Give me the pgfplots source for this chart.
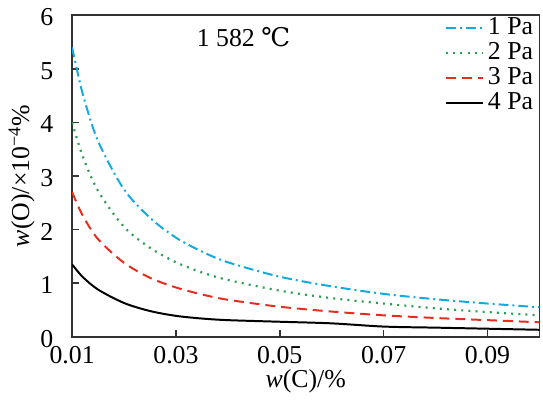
\documentclass[border=0pt]{standalone}
\usepackage{fontspec}
\setmainfont{Liberation Serif}
\newfontfamily\dejavu{DejaVu Serif}
\usepackage{pgfplots}
\pgfplotsset{compat=1.18}
\definecolor{cblue}{RGB}{20,170,225}
\definecolor{cgreen}{RGB}{40,160,80}
\definecolor{cred}{RGB}{230,45,30}
\begin{document}
\fontsize{13pt}{15pt}\selectfont
\begin{tikzpicture}
\begin{axis}[
  scale only axis,
  width=235.5pt, height=162pt,
  xmin=0.01, xmax=0.1, ymin=0, ymax=6,
  xtick={0.01,0.03,0.05,0.07,0.09},
  ytick={0,1,2,3,4,5,6},
  tick pos=left,
  tick align=inside,
  major tick length=3.5pt,
  /pgf/number format/assume math mode=true,
  xticklabel style={/pgf/number format/fixed, /pgf/number format/fixed zerofill, /pgf/number format/precision=2, yshift=-0.5pt},
  yticklabel style={/pgf/number format/fixed, /pgf/number format/precision=0, xshift=-5pt, yshift=-1pt},
  tick label style={font=\fontsize{13pt}{15pt}\selectfont},
  axis line style={line width=0.9pt, black!80},
  every tick/.style={black!80, line width=0.7pt},
  xlabel={\textit{w}(C)/\%},
  ylabel={\textit{w}(O)/×10\textsuperscript{−4}\%},
  label style={font=\fontsize{13pt}{15pt}\selectfont},
  xlabel style={yshift=6pt},
  ylabel style={yshift=-6pt},
  legend style={draw=none, fill=none, at={(rel axis cs:1,1)}, anchor=north east,
    font=\fontsize{13pt}{15pt}\selectfont, row sep=-2pt, xshift=2pt, yshift=3pt},
  legend cell align=left,
  legend image code/.code={\draw[#1] (0cm,0cm) -- (0.65cm,0cm);},
  clip=true,
]
\addplot[cblue, line width=1pt, smooth, dash pattern=on 5pt off 2pt on 1pt off 2pt] coordinates {
(0.010,5.40) (0.012,4.55) (0.015,3.65) (0.020,2.75) (0.025,2.22) (0.030,1.85)
(0.035,1.59) (0.040,1.39) (0.050,1.12) (0.060,0.94) (0.070,0.80) (0.080,0.70)
(0.090,0.62) (0.100,0.55)};
\addlegendentry{1 Pa}
\addplot[cgreen, line width=1.1pt, smooth, dash pattern=on 1pt off 2.6pt] coordinates {
(0.010,4.00) (0.012,3.38) (0.015,2.72) (0.020,2.05) (0.025,1.66) (0.030,1.39)
(0.035,1.20) (0.040,1.06) (0.050,0.86) (0.060,0.72) (0.070,0.62) (0.080,0.53)
(0.090,0.46) (0.100,0.40)};
\addlegendentry{2 Pa}
\addplot[cred, line width=1pt, smooth, dash pattern=on 5pt off 3pt] coordinates {
(0.010,2.70) (0.012,2.27) (0.015,1.82) (0.020,1.38) (0.025,1.10) (0.030,0.92)
(0.035,0.79) (0.040,0.69) (0.050,0.56) (0.060,0.47) (0.070,0.40) (0.080,0.35)
(0.090,0.31) (0.100,0.27)};
\addlegendentry{3 Pa}
\addplot[black, line width=1pt, smooth] coordinates {
(0.010,1.35) (0.012,1.12) (0.015,0.88) (0.020,0.63) (0.025,0.48) (0.030,0.39)
(0.035,0.34) (0.040,0.31) (0.050,0.28) (0.060,0.25) (0.070,0.19) (0.080,0.17)
(0.090,0.15) (0.100,0.13)};
\addlegendentry{4 Pa}
\node[anchor=center] at (axis cs:0.043,5.6) {1 582 {\dejavu ℃}};
\end{axis}
\end{tikzpicture}
\end{document}
